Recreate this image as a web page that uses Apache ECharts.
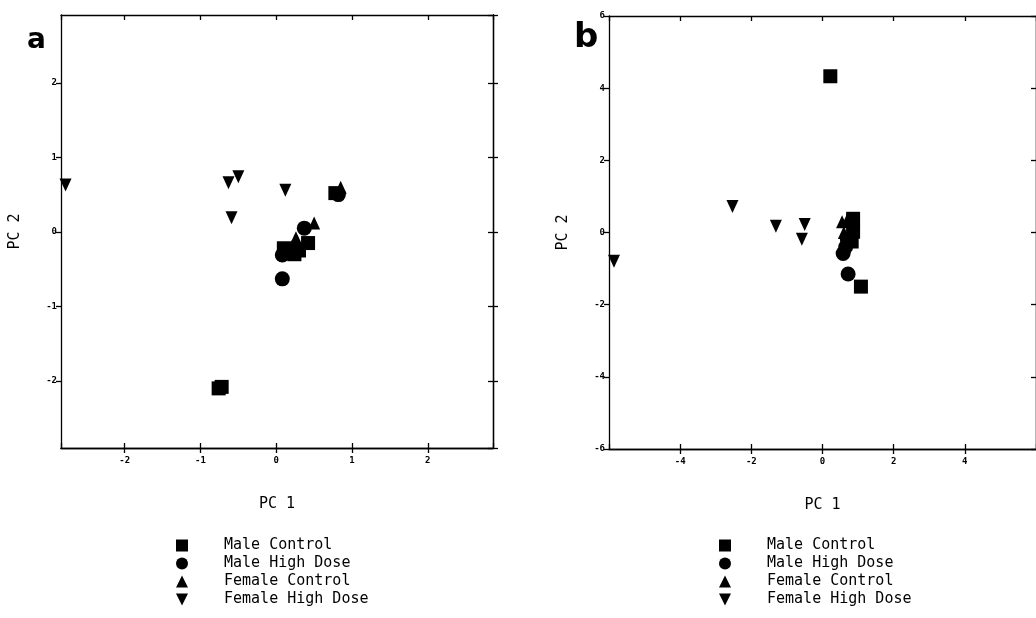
<!DOCTYPE html>
<html>
<head>
<meta charset="utf-8">
<script src="https://cdn.jsdelivr.net/npm/echarts@6/dist/echarts.min.js"></script>
<style>html,body{margin:0;padding:0;background:#fff;}#c{width:1036px;height:618px;}</style>
</head>
<body>
<div id="c"></div>
<script>
// ---- data ----
const seriesNames = ['Male Control', 'Male High Dose', 'Female Control', 'Female High Dose'];
// Panel a
const aMaleControl = [[-0.72,-2.08],[-0.76,-2.10],[0.78,0.52],[0.10,-0.22],[0.24,-0.30],[0.42,-0.15],[0.30,-0.25]];
const aMaleHighDose = [[0.08,-0.63],[0.08,-0.31],[0.37,0.05],[0.82,0.50],[0.15,-0.28]];
const aFemaleControl = [[0.50,0.12],[0.85,0.60],[0.26,-0.08],[0.20,-0.20]];
const aFemaleHighDose = [[-2.78,0.63],[-0.63,0.66],[-0.50,0.74],[-0.59,0.19],[0.12,0.56]];
// Panel b
const bMaleControl = [[0.22,4.33],[1.08,-1.50],[0.86,0.38],[0.86,0.02],[0.82,-0.25]];
const bMaleHighDose = [[0.72,-1.15],[0.58,-0.58],[0.65,-0.40],[0.70,-0.20]];
const bFemaleControl = [[0.55,0.30],[0.70,0.36],[0.60,0.00],[0.75,-0.10]];
const bFemaleHighDose = [[-5.86,-0.80],[-2.53,0.72],[-1.31,0.17],[-0.50,0.22],[-0.58,-0.19]];
// axis extents
const aXRange = [-2.84, 2.86];
const aYRange = [-2.9, 2.91];
const bXRange = [-6, 6];
const bYRange = [-6, 6];

const symbols = ['rect', 'circle', 'triangle', 'path://M0,0 L10,0 L5,10 Z'];
const symSizes = [14, 15, [12, 13], [12, 13]];

const chart = echarts.init(document.getElementById('c'));
const MONO = 'DejaVu Sans Mono';
const tickLabelStyle = {fontFamily: MONO, fontSize: 9, fontWeight: 'bold', color: '#000'};
const lineStyle = {color: '#000', width: 1.3};

function intOnly(v){ return Math.abs(v - Math.round(v)) < 1e-6 ? String(Math.round(v)) : ''; }

function makeAxes(gi, xr, yr, xSplit, ySplit, xHideEnds, yHideEnds){
  const xs = [], ys = [];
  const baseX = {type: 'value', gridIndex: gi, min: xr[0], max: xr[1], splitNumber: xSplit,
    splitLine: {show: false}, axisLine: {show: true, onZero: false, lineStyle: lineStyle}};
  xs.push(Object.assign({}, baseX, {position: 'bottom', name: 'PC 1', nameLocation: 'middle', nameGap: 49,
    nameTextStyle: {fontFamily: MONO, fontSize: 15, color: '#000'},
    axisTick: {show: true, inside: false, length: 5, lineStyle: lineStyle},
    axisLabel: {show: true, formatter: intOnly, margin: 8, showMinLabel: !xHideEnds, showMaxLabel: !xHideEnds, ...tickLabelStyle}}));
  xs.push(Object.assign({}, baseX, {position: 'bottom', axisTick: {show: true, inside: true, length: 5, lineStyle: lineStyle}, axisLabel: {show: false}}));
  xs.push(Object.assign({}, baseX, {position: 'top', axisTick: {show: true, inside: true, length: 5, lineStyle: lineStyle}, axisLabel: {show: false}}));
  const baseY = {type: 'value', gridIndex: gi, min: yr[0], max: yr[1], splitNumber: ySplit,
    splitLine: {show: false}, axisLine: {show: true, onZero: false, lineStyle: lineStyle}};
  ys.push(Object.assign({}, baseY, {position: 'left', name: 'PC 2', nameLocation: 'middle', nameGap: 38,
    nameTextStyle: {fontFamily: MONO, fontSize: 15, color: '#000'},
    axisTick: {show: true, inside: false, length: 5, lineStyle: lineStyle},
    axisLabel: {show: true, formatter: intOnly, margin: 4, showMinLabel: !yHideEnds, showMaxLabel: !yHideEnds, ...tickLabelStyle}}));
  ys.push(Object.assign({}, baseY, {position: 'right', axisTick: {show: true, inside: true, length: 5, lineStyle: lineStyle}, axisLabel: {show: false}}));
  ys.push(Object.assign({}, baseY, {position: 'right', axisTick: {show: true, inside: false, length: 5, lineStyle: lineStyle}, axisLabel: {show: false}}));
  return {xs, ys};
}

const A = makeAxes(0, aXRange, aYRange, 5, 5, true, true);
const B = makeAxes(1, bXRange, bYRange, 6, 6, true, false);

const aData = [aMaleControl, aMaleHighDose, aFemaleControl, aFemaleHighDose];
const bData = [bMaleControl, bMaleHighDose, bFemaleControl, bFemaleHighDose];

const series = [];
seriesNames.forEach((n, i) => {
  series.push({type: 'scatter', name: n, xAxisIndex: 0, yAxisIndex: 0, data: aData[i],
    symbol: symbols[i], symbolSize: symSizes[i], itemStyle: {color: '#000', opacity: 1}, silent: true});
});
seriesNames.forEach((n, i) => {
  series.push({type: 'scatter', name: n, xAxisIndex: 3, yAxisIndex: 3, data: bData[i],
    symbol: symbols[i], symbolSize: symSizes[i], itemStyle: {color: '#000', opacity: 1}, silent: true});
});

function legendFor(left){
  return {orient: 'vertical', left: left, top: 538, padding: 0, itemGap: 3, itemWidth: 12, itemHeight: 12,
    height: 80,
    data: seriesNames.map((n, i) => ({name: n, icon: symbols[i], itemStyle: {color: '#000', opacity: 1}})),
    selectedMode: false,
    textStyle: {fontFamily: MONO, fontSize: 15, lineHeight: 12, color: '#000', padding: [0, 0, 0, 31]}};
}

chart.setOption({
  animation: false,
  backgroundColor: '#fff',
  title: [
    {text: 'a', left: 22, top: 22, textStyle: {fontFamily: 'DejaVu Sans', fontSize: 28, fontWeight: 'bold', color: '#000'}},
    {text: 'b', left: 569, top: 16, textStyle: {fontFamily: 'DejaVu Sans', fontSize: 34, fontWeight: 'bold', color: '#000'}}
  ],
  grid: [
    {left: 61, top: 15, width: 432, height: 433},
    {left: 609, top: 16, width: 431, height: 433}
  ],
  xAxis: A.xs.concat(B.xs),
  yAxis: A.ys.concat(B.ys),
  legend: [legendFor(176), legendFor(719)],
  series: series
});
</script>
</body>
</html>
